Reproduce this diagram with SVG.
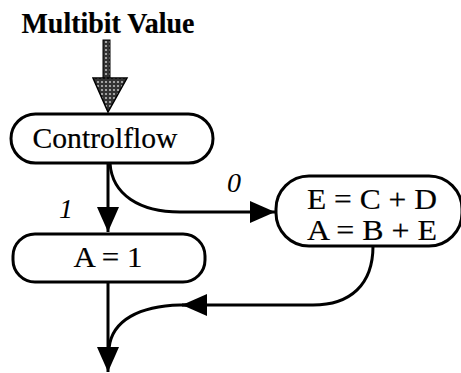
<svg xmlns="http://www.w3.org/2000/svg" width="461" height="373" viewBox="0 0 461 373">
  <style>
    .box { fill: #fff; stroke: #000; stroke-width: 3; }
    .wire { fill: none; stroke: #000; stroke-width: 3; }
    .lbl { font-family: "Liberation Serif", "Times New Roman", serif; font-size: 29px; fill: #000; stroke: #000; stroke-width: 0.2; }
    .br { font-family: "Liberation Serif", "Times New Roman", serif; font-size: 28px; font-style: italic; fill: #000; }
  </style>
  <defs>
    <pattern id="dots" width="4" height="4" patternUnits="userSpaceOnUse">
      <rect width="4" height="4" fill="#333"/>
      <circle cx="2" cy="2" r="1.1" fill="#bbb"/>
    </pattern>
    <marker id="head" viewBox="0 0 25 22" refX="25" refY="11" markerWidth="25" markerHeight="22" markerUnits="userSpaceOnUse" orient="auto">
      <path d="M0,0 L25,11 L0,22 Z" fill="#000"/>
    </marker>
  </defs>

  <text class="lbl" x="108" y="33" text-anchor="middle" font-weight="bold" font-size="27" stroke-width="0" textLength="173" lengthAdjust="spacingAndGlyphs">Multibit Value</text>

  <!-- multibit input arrow -->
  <g id="input">
    <rect x="103" y="40" width="7" height="40" fill="url(#dots)" stroke="#000" stroke-width="1"/>
    <path d="M93,78 L127,78 L108,112 Z" fill="url(#dots)" stroke="#000" stroke-width="1.5"/>
  </g>

  <g id="controlflow">
    <rect class="box" x="11" y="114" width="202" height="49" rx="24.5"/>
    <text class="lbl" x="105" y="148" text-anchor="middle" textLength="145" lengthAdjust="spacingAndGlyphs">Controlflow</text>
  </g>

  <g id="assign-a1">
    <rect class="box" x="13" y="234" width="192" height="48" rx="22"/>
    <text class="lbl" x="108" y="267" text-anchor="middle" textLength="69" lengthAdjust="spacingAndGlyphs">A = 1</text>
  </g>

  <g id="assign-ea">
    <rect class="box" x="276" y="176" width="186" height="70" rx="33"/>
    <text class="lbl" x="372" y="209" text-anchor="middle" textLength="130" lengthAdjust="spacingAndGlyphs">E = C + D</text>
    <text class="lbl" x="372" y="240" text-anchor="middle" textLength="130" lengthAdjust="spacingAndGlyphs">A = B + E</text>
  </g>

  <g id="connectors">
    <path class="wire" d="M108,163 L108,232" marker-end="url(#head)"/>
    <path class="wire" d="M110,163 C112,195 140,212 180,212 L275,212" marker-end="url(#head)"/>
    <path class="wire" d="M373,246 C373,285 350,305 313,305 L182,305" marker-end="url(#head)"/>
    <path class="wire" d="M192,305 L180,305 C140,306 112,320 109,348"/>
    <path class="wire" d="M108,282 L108,372" marker-end="url(#head)"/>
  </g>

  <text class="br" x="234" y="192" text-anchor="middle">0</text>
  <text class="br" x="66" y="218" text-anchor="middle">1</text>
</svg>
